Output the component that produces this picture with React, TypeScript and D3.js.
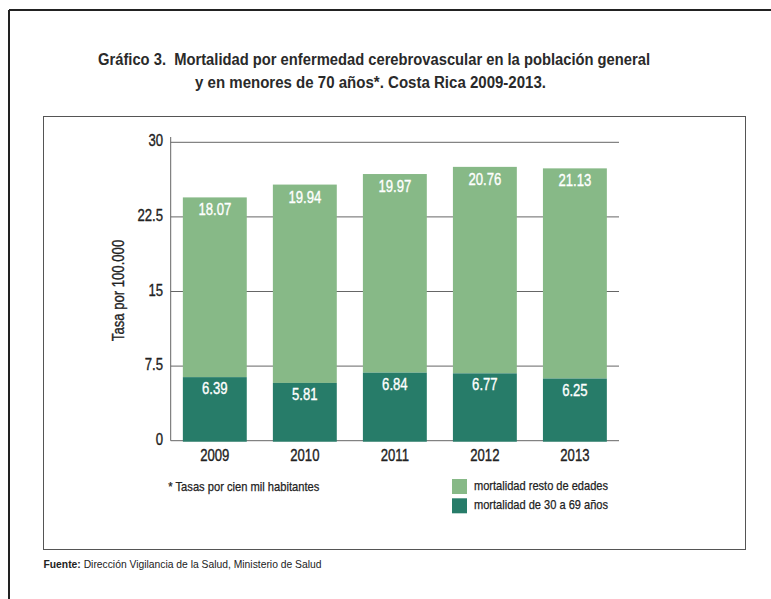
import React from "react";
import * as d3 from "d3";

const years = ["2009", "2010", "2011", "2012", "2013"];
const mortalidad30a69 = [6.39, 5.81, 6.84, 6.77, 6.25];
const mortalidadResto = [18.07, 19.94, 19.97, 20.76, 21.13];
const yTicks = [0, 7.5, 15, 22.5, 30];
const seriesNames = ["mortalidad resto de edades", "mortalidad de 30 a 69 años"];

const LIGHT = "#87b987";
const DARK = "#277c69";
const FONT = "'Liberation Sans', Arial, sans-serif";
const NARROW = 0.82;

type NTProps = {
  x: number;
  y: number;
  size: number;
  anchor?: "start" | "middle" | "end";
  fill?: string;
  weight?: string;
  rotate?: number;
  children: React.ReactNode;
};

function NText({ x, y, size, anchor = "start", fill = "#222", weight = "normal", rotate = 0, children }: NTProps) {
  return (
    <text
      transform={`translate(${x},${y}) rotate(${rotate}) scale(${NARROW},1)`}
      textAnchor={anchor}
      fontSize={size}
      fontWeight={weight}
      fill={fill}
      stroke={fill}
      strokeWidth={0.35}
      style={{ whiteSpace: "pre" }}
    >
      {children}
    </text>
  );
}

export default function App() {
  const W = 771;
  const H = 599;
  const x = d3
    .scaleBand<string>()
    .domain(years)
    .range([170.7, 619])
    .paddingInner(0.29)
    .paddingOuter(0.135);
  const y = d3.scaleLinear().domain([0, 30]).range([440.7, 142.3]);

  const rows = years.map((yr, i) => ({
    year: yr,
    dark: mortalidad30a69[i],
    light: mortalidadResto[i],
  }));

  return (
    <svg
      width={W}
      height={H}
      style={{ position: "absolute", left: 0, top: 0, display: "block", background: "#fff" }}
      fontFamily={FONT}
    >
      {/* outer frame */}
      <line x1={9} y1={10} x2={W} y2={10} stroke="#222" strokeWidth={2} />
      <line x1={9} y1={10} x2={9} y2={H} stroke="#222" strokeWidth={2} />

      {/* title */}
      <text x={374} y={65} textAnchor="middle" fontSize={16} fontWeight="bold" fill="#2a2a2a"
        textLength={552} lengthAdjust="spacingAndGlyphs" style={{ whiteSpace: "pre" }}>
        {"Gráfico 3.\u00a0 Mortalidad por enfermedad cerebrovascular en la población general"}
      </text>
      <text x={370.5} y={88} textAnchor="middle" fontSize={16} fontWeight="bold" fill="#2a2a2a"
        textLength={351} lengthAdjust="spacingAndGlyphs">
        y en menores de 70 años*. Costa Rica 2009-2013.
      </text>

      {/* inner box */}
      <rect x={43.5} y={116.5} width={702} height={433} fill="none" stroke="#555" strokeWidth={1} />

      {/* gridlines */}
      {yTicks.map((t) => (
        <line key={t} x1={170.7} x2={619} y1={y(t)} y2={y(t)} stroke="#666" strokeWidth={1} />
      ))}
      <line x1={170.7} x2={170.7} y1={137} y2={y(0)} stroke="#666" strokeWidth={1} />

      {/* y tick labels */}
      {yTicks.map((t) => (
        <NText key={t} x={163} y={y(t) + 4} size={16} anchor="end">
          {String(t)}
        </NText>
      ))}

      {/* y axis title */}
      <NText x={124} y={290.5} size={16} anchor="middle" rotate={-90}>
        Tasa por 100.000
      </NText>

      {/* bars */}
      {rows.map((r) => {
        const x0 = x(r.year)!;
        const bw = x.bandwidth();
        const yDarkTop = y(r.dark);
        const yLightTop = y(r.dark + r.light);
        const cx = x0 + bw / 2;
        return (
          <g key={r.year}>
            <rect x={x0} y={yLightTop} width={bw} height={yDarkTop - yLightTop} fill={LIGHT} />
            <rect x={x0} y={yDarkTop} width={bw} height={y(0) - yDarkTop + 1} fill={DARK} />
            <NText x={cx} y={yLightTop + 18} size={16} anchor="middle" fill="#fff">
              {r.light.toFixed(2)}
            </NText>
            <NText x={cx} y={yDarkTop + 17} size={16} anchor="middle" fill="#fff">
              {r.dark.toFixed(2)}
            </NText>
            <NText x={cx} y={461} size={16} anchor="middle">
              {r.year}
            </NText>
          </g>
        );
      })}

      {/* footnote */}
      <text x={168.3} y={491} fontSize={13} fill="#222" stroke="#222" strokeWidth={0.25}
        textLength={151} lengthAdjust="spacingAndGlyphs">
        * Tasas por cien mil habitantes
      </text>

      {/* legend */}
      {seriesNames.map((name, i) => (
        <g key={name}>
          <rect x={452} y={479 + i * 19.3} width={15} height={15} fill={i === 0 ? LIGHT : DARK} />
          <text x={474} y={489.5 + i * 19.3} fontSize={13} fill="#222" stroke="#222" strokeWidth={0.25}
            textLength={134} lengthAdjust="spacingAndGlyphs">
            {name}
          </text>
        </g>
      ))}

      {/* source */}
      <text x={43.5} y={568} fontSize={11} fill="#222" textLength={278} lengthAdjust="spacingAndGlyphs">
        <tspan fontWeight="bold">Fuente:</tspan> Dirección Vigilancia de la Salud, Ministerio de Salud
      </text>
    </svg>
  );
}
